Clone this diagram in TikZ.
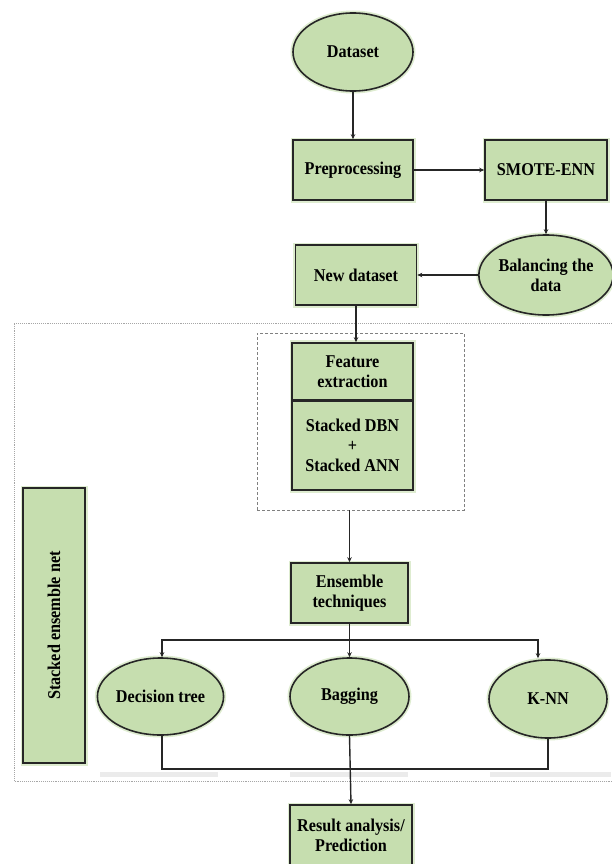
\documentclass[tikz,border=0pt]{standalone}
\usepackage{fontspec}
\setmainfont{Liberation Serif}[FakeStretch=0.9]
\usetikzlibrary{shapes.geometric,arrows.meta}
\definecolor{boxgreen}{RGB}{198,222,175}
\definecolor{halo}{RGB}{222,236,208}
\definecolor{edgec}{RGB}{38,38,38}
\begin{document}
\begin{tikzpicture}[x=1pt,y=-1pt,
  plain/.style={draw=edgec, line width=1.6pt, fill=boxgreen,
    font=\bfseries\fontsize{18}{20}\selectfont, align=center, inner sep=0pt},
  base/.style={plain, preaction={draw=halo, line width=5pt}},
  rbox/.style={base, rectangle},
  pbox/.style={plain, rectangle},
  oval/.style={base, ellipse},
  conn/.style={draw=edgec, line width=1.4pt},
  arr/.style={conn, -{Stealth[length=5pt,width=4.5pt]}},
  groupbox/.style={draw=gray, densely dashed, line width=0.8pt, rectangle, inner sep=0pt},
  shadowbar/.style={fill=gray!35, opacity=0.45},
]
\useasboundingbox (0,0) rectangle (611,864);

% outer dotted frame
\draw[gray!70, densely dotted, line width=0.9pt] (625,323) -- (14,323) -- (14,781) -- (625,781);

% shadows
\fill[shadowbar] (100,772) rectangle (218,777);
\fill[shadowbar] (290,772) rectangle (408,777);
\fill[shadowbar] (490,772) rectangle (611,777);

% nodes
\node[oval, minimum width=120pt, minimum height=78pt] (data) at (353,52) {Dataset};
\node[rbox, minimum width=120pt, minimum height=60pt] (prep) at (353,170) {Preprocessing};
\node[rbox, minimum width=122pt, minimum height=60pt] (smote) at (546,170) {SMOTE-ENN};
\node[oval, minimum width=123pt, minimum height=80pt] (bal) at (546,275) {Balancing the\\data};
\node[rbox, minimum width=121pt, minimum height=60pt] (newd) at (356,275) {New dataset};

\node[groupbox, minimum width=207pt, minimum height=177pt] (grp) at (360.5,421.5) {};
\fill[halo] (289.5,340) rectangle (415.5,493);
\node[pbox, minimum width=121pt, minimum height=57pt] (feat) at (352.5,371.5) {Feature\\extraction};
\node[pbox, minimum width=121pt, minimum height=90pt] (stack) at (352.5,445) {Stacked DBN\\+\\Stacked ANN};
\draw[edgec, line width=1.6pt] (feat.south west) -- (feat.south east);

\node[rbox, minimum width=117pt, minimum height=60pt] (ens) at (349.5,593) {Ensemble\\techniques};

\node[oval, minimum width=121pt, minimum height=77pt] (dt) at (160.5,696.5) {Decision tree};
\node[oval, minimum width=119pt, minimum height=77pt] (bag) at (349.5,696.5) {Bagging};
\node[oval, minimum width=118pt, minimum height=78pt] (knn) at (548,699) {K-NN};

\node[rbox, minimum width=122pt, minimum height=61pt] (res) at (351,835.5) {Result analysis/\\Prediction};

\node[rbox, rotate=90, minimum width=275pt, minimum height=62pt] (sen) at (54,625.5) {Stacked ensemble net};

% connectors
\draw[arr] (data) -- (prep);
\draw[arr] (prep) -- (smote);
\draw[arr] (smote) -- (bal);
\draw[arr] (bal) -- (newd);
\draw[arr] (newd.south) -- (newd.south |- feat.north);
\draw[arr] (ens.north |- grp.south) -- (ens.north);

\coordinate (brk) at (349.5,640);
\draw[conn] (ens.south) -- (brk);
\draw[arr] (brk) -| ([xshift=1.5pt]dt.north);
\draw[arr] (brk) -- (bag.north);
\draw[arr] (brk) -| ([xshift=-10pt,yshift=1pt]knn.north);

\coordinate (bot) at (349.5,769);
\draw[conn] ([xshift=1.5pt]dt.south) |- (bot);
\draw[conn] (knn.south) |- (bot);
\draw[arr] (bag.south) -- (res.north);
\end{tikzpicture}
\end{document}
